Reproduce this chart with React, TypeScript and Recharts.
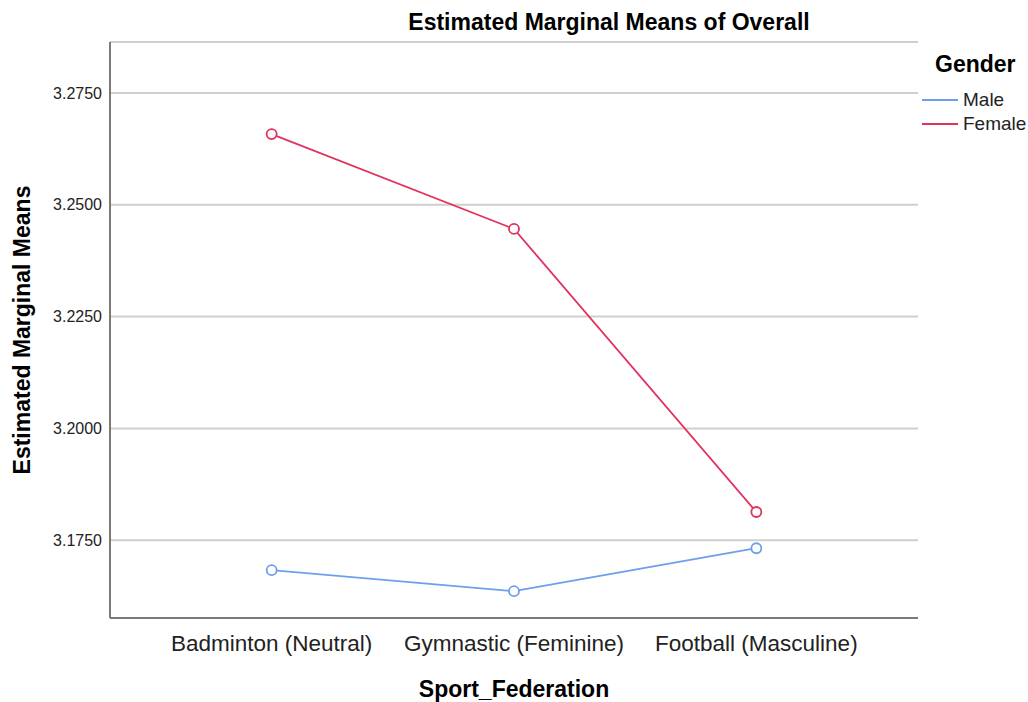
import React from "react";
import {
  LineChart,
  Line,
  XAxis,
  YAxis,
  CartesianGrid,
} from "recharts";

const categories = ["Badminton (Neutral)", "Gymnastic (Feminine)", "Football (Masculine)"];
const maleMeans = [3.1683, 3.1636, 3.1732];
const femaleMeans = [3.2658, 3.2446, 3.1813];
const yTicks = [3.175, 3.2, 3.225, 3.25, 3.275];
const seriesNames = ["Male", "Female"];

const MALE_COLOR = "#6d9fec";
const FEMALE_COLOR = "#e0325c";
const seriesColors = [MALE_COLOR, FEMALE_COLOR];
const FONT = '"Liberation Sans", Arial, sans-serif';

const data = categories.map((name, i) => ({
  idx: i,
  name,
  male: maleMeans[i],
  female: femaleMeans[i],
}));

// legend drawn outside recharts so it doesn't eat plot width
function GenderLegend() {
  return (
    <div style={{ position: "absolute", left: 922, top: 50, fontFamily: FONT, color: "#000" }}>
      <div style={{ fontSize: 23, fontWeight: 700, marginLeft: 13, lineHeight: "28px" }}>Gender</div>
      <div style={{ marginTop: 10 }}>
        {seriesNames.map((n, i) => (
          <div key={n} style={{ display: "flex", alignItems: "center", height: 24 }}>
            <span
              style={{
                display: "inline-block",
                width: 36,
                height: 2,
                background: seriesColors[i],
                marginRight: 5,
              }}
            />
            <span style={{ fontSize: 19, color: "#222" }}>{n}</span>
          </div>
        ))}
      </div>
    </div>
  );
}

const labelStyle: React.CSSProperties = {
  position: "absolute",
  fontSize: 23,
  fontWeight: 700,
  whiteSpace: "nowrap",
  color: "#000",
};

export default function App() {
  return (
    <div
      style={{
        position: "absolute",
        left: 0,
        top: 0,
        width: 1028,
        height: 702,
        background: "#fff",
        fontFamily: FONT,
      }}
    >
      <LineChart
        width={1028}
        height={702}
        data={data}
        margin={{ top: 42, right: 110, bottom: 12, left: 0 }}
        style={{ position: "absolute", left: 0, top: 0 }}
      >
        <CartesianGrid vertical={false} stroke="#cfcfcf" strokeWidth={2} />
        <XAxis
          type="number"
          dataKey="idx"
          domain={[-0.667, 2.667]}
          ticks={[0, 1, 2]}
          tickFormatter={(v: number) => categories[v] ?? ""}
          height={72}
          axisLine={{ stroke: "#7a7a7a", strokeWidth: 2 }}
          tickLine={false}
          tickSize={0}
          tickMargin={17}
          tick={{ fill: "#222", fontSize: 22.5, fontFamily: FONT }}
          interval={0}
        />
        <YAxis
          type="number"
          domain={[3.1576, 3.2864]}
          ticks={yTicks}
          tickFormatter={(v: number) => v.toFixed(4)}
          width={110}
          axisLine={{ stroke: "#7a7a7a", strokeWidth: 2 }}
          tickLine={false}
          tickSize={0}
          tickMargin={8}
          tick={{ fill: "#222", fontSize: 16, fontFamily: FONT }}
          allowDataOverflow
        />
        <Line
          type="linear"
          dataKey="male"
          name={seriesNames[0]}
          stroke={MALE_COLOR}
          strokeWidth={1.8}
          dot={{ r: 5, stroke: MALE_COLOR, strokeWidth: 1.8, fill: "#fff" }}
          activeDot={false}
          isAnimationActive={false}
        />
        <Line
          type="linear"
          dataKey="female"
          name={seriesNames[1]}
          stroke={FEMALE_COLOR}
          strokeWidth={1.8}
          dot={{ r: 5, stroke: FEMALE_COLOR, strokeWidth: 1.8, fill: "#fff" }}
          activeDot={false}
          isAnimationActive={false}
        />
      </LineChart>

      <div style={{ ...labelStyle, left: 609, top: 22, transform: "translate(-50%, -50%)" }}>
        Estimated Marginal Means of Overall
      </div>
      <div style={{ ...labelStyle, left: 22, top: 330, transform: "translate(-50%, -50%) rotate(-90deg)" }}>
        Estimated Marginal Means
      </div>
      <div style={{ ...labelStyle, left: 514, top: 689, transform: "translate(-50%, -50%)" }}>
        Sport_Federation
      </div>
      <GenderLegend />
    </div>
  );
}
